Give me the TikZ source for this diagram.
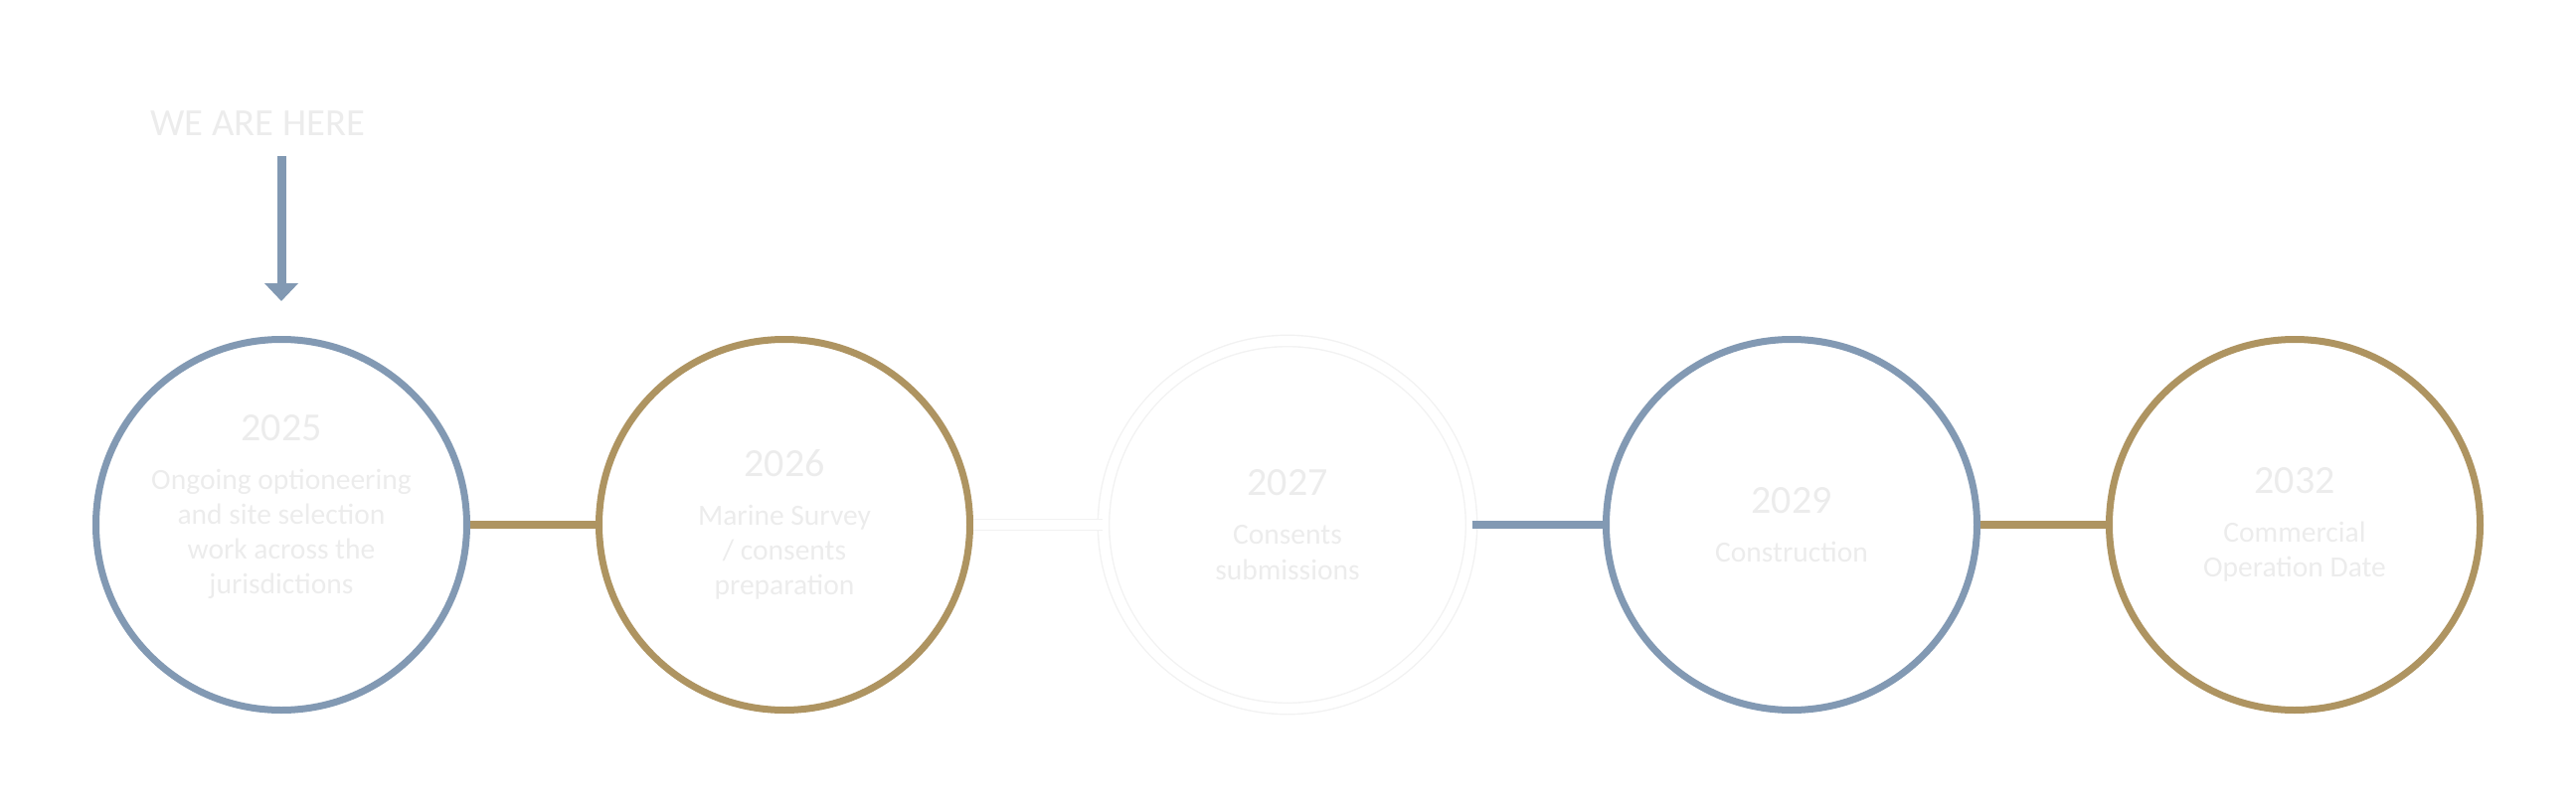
\documentclass[tikz,border=0pt]{standalone}
\usepackage{fontspec}
\setmainfont{Carlito}
\usetikzlibrary{arrows.meta}

\definecolor{stepblue}{RGB}{130,153,179}
\definecolor{stepgold}{RGB}{174,148,97}
\definecolor{paletext}{RGB}{236,236,236}

\newcommand\yearline[1]{{\fontsize{11.4pt}{13pt}\selectfont #1}\\[4pt]}

\begin{document}
\begin{tikzpicture}[thick]
\tikzstyle{ring}=[circle,minimum size=3.73cm,inner sep=0pt,line width=0.07cm]
\tikzstyle{bluering}=[ring,draw=stepblue]
\tikzstyle{goldring}=[ring,draw=stepgold]
\tikzstyle{whitering}=[circle,minimum size=3.7cm,inner sep=0pt,draw=black!5,line width=0.4pt,double=white,double distance=0.1cm]
\tikzstyle{stagetext}=[align=center,text=paletext,inner sep=0pt,font=\fontsize{8.4pt}{10pt}\selectfont]
\tikzstyle{heretext}=[text=paletext,inner sep=0pt,font=\fontsize{11pt}{13pt}\selectfont]
\tikzstyle{bluelink}=[draw=stepblue,line width=0.08cm]
\tikzstyle{goldlink}=[draw=stepgold,line width=0.08cm]
\tikzstyle{whitelink}=[draw=black!5,line width=0.4pt,double=white,double distance=0.1cm]
\tikzstyle{herearrow}=[draw=stepblue,line width=0.09cm,-{Triangle[width=0.33cm,length=0.18cm]}]

\useasboundingbox (0,0) rectangle (25.91,8.10);

\node[bluering] (2025) at (2.83,2.82) {};
\node[goldring] (2026) at (7.89,2.82) {};
\node[whitering] (2027) at (12.95,2.82) {};
\node[bluering] (2029) at (18.02,2.82) {};
\node[goldring] (2032) at (23.08,2.82) {};

\node[stagetext] (t2025) at ([yshift=0.18cm]2025) {\yearline{2025}Ongoing optioneering\\and site selection\\work across the\\jurisdictions};
\node[stagetext] (t2026) at (2026) {\yearline{2026}Marine Survey\\/ consents\\preparation};
\node[stagetext] (t2027) at (2027) {\yearline{2027}Consents\\submissions};
\node[stagetext] (t2029) at (2029) {\yearline{2029}Construction};
\node[stagetext] (t2032) at (2032) {\yearline{2032}Commercial\\Operation Date};

\draw[goldlink] (2025) -- (2026);
\draw[whitelink] (2026) -- (2027);
\draw[bluelink] (2027) -- (2029);
\draw[goldlink] (2029) -- (2032);

% we are here marker
\node[heretext] (here) at (2.59,6.855) {WE ARE HERE};
\coordinate (arrowtop) at (2.83,6.53);
\coordinate (arrowtip) at ([yshift=0.35cm]2025.north);
\draw[herearrow] (arrowtop) -- (arrowtip);
\end{tikzpicture}
\end{document}
